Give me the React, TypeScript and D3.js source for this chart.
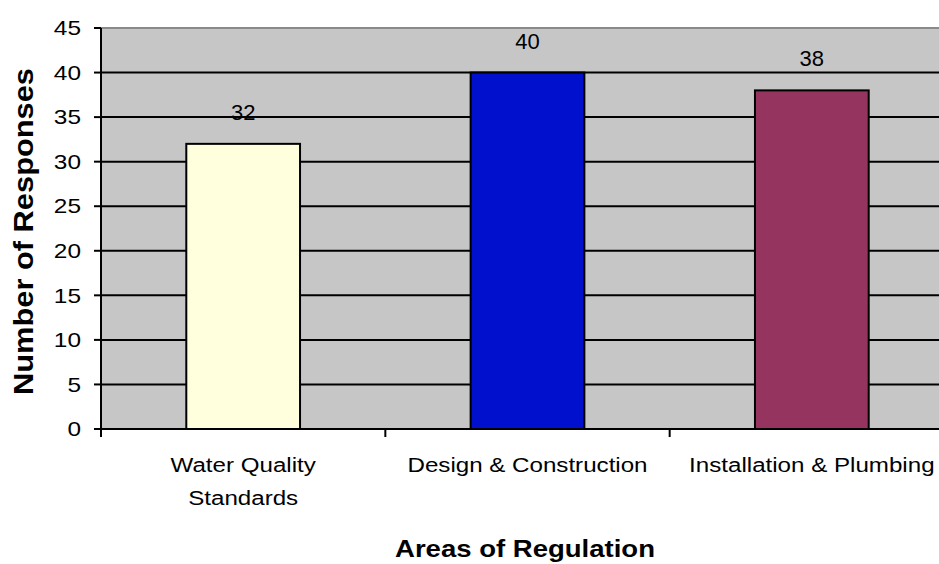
import * as d3 from 'd3';
import React from 'react';

const categories = ['Water Quality Standards', 'Design & Construction', 'Installation & Plumbing'];
const categoryLines = [['Water Quality', 'Standards'], ['Design & Construction'], ['Installation & Plumbing']];
const responses = [32, 40, 38];
const barColors = ['#ffffdd', '#0010cc', '#95355f'];
const yTicks = [0, 5, 10, 15, 20, 25, 30, 35, 40, 45];

const WIDTH = 939;
const HEIGHT = 564;
const PLOT = { left: 101, right: 954, top: 28, bottom: 429 };
const FONT = 'Arial, "Liberation Sans", sans-serif';

export default function App() {
  const xScale = d3.scaleBand().domain(categories).range([PLOT.left, PLOT.right]).padding(0);
  const yScale = d3.scaleLinear().domain([0, 45]).range([PLOT.bottom, PLOT.top]);
  const barWidth = xScale.bandwidth() * 0.4;

  return (
    <svg width={WIDTH} height={HEIGHT} style={{ position: 'absolute', left: 0, top: 0 }} fontFamily={FONT}>
      <rect x={0} y={0} width={WIDTH} height={HEIGHT} fill="#fff" />
      <rect
        x={PLOT.left}
        y={PLOT.top}
        width={PLOT.right - PLOT.left}
        height={PLOT.bottom - PLOT.top}
        fill="#c6c6c6"
      />
      <line x1={PLOT.left} x2={PLOT.right} y1={PLOT.top} y2={PLOT.top} stroke="#8a8a8a" strokeWidth={2} />

      {/* gridlines */}
      {yTicks.filter(t => t > 0 && t < 45).map(t => (
        <line key={t} x1={PLOT.left} x2={PLOT.right} y1={yScale(t)} y2={yScale(t)} stroke="#000" strokeWidth={2} />
      ))}

      {/* bars */}
      {categories.map((c, i) => {
        const cx = (xScale(c) ?? 0) + xScale.bandwidth() / 2;
        const y = yScale(responses[i]);
        return (
          <g key={c}>
            <rect
              x={cx - barWidth / 2}
              y={y}
              width={barWidth}
              height={PLOT.bottom - y}
              fill={barColors[i]}
              stroke="#000"
              strokeWidth={2}
            />
            <text x={cx} y={y - 24} textAnchor="middle" fontSize={22} fill="#000">
              {responses[i]}
            </text>
          </g>
        );
      })}

      {/* y axis */}
      <line x1={PLOT.left} x2={PLOT.left} y1={PLOT.top} y2={PLOT.bottom + 1} stroke="#000" strokeWidth={2} />
      {yTicks.map(t => (
        <g key={t}>
          <line x1={PLOT.left - 7} x2={PLOT.left} y1={yScale(t)} y2={yScale(t)} stroke="#000" strokeWidth={2} />
          <text
            transform={`translate(81, ${yScale(t)}) scale(1.22, 1)`}
            dy="0.36em"
            textAnchor="end"
            fontSize={20}
            fill="#000"
          >
            {t}
          </text>
        </g>
      ))}

      {/* x axis */}
      <line x1={PLOT.left} x2={PLOT.right} y1={PLOT.bottom} y2={PLOT.bottom} stroke="#000" strokeWidth={2} />
      {categories.map(c => (
        <line
          key={c}
          x1={xScale(c) ?? 0}
          x2={xScale(c) ?? 0}
          y1={PLOT.bottom}
          y2={PLOT.bottom + 8}
          stroke="#000"
          strokeWidth={2}
        />
      ))}
      {categories.map((c, i) => {
        const cx = (xScale(c) ?? 0) + xScale.bandwidth() / 2;
        return (
          <g key={c} transform={`translate(${cx}, 472) scale(1.15, 1)`}>
            {categoryLines[i].map((line, j) => (
              <text key={j} x={0} y={j * 33} textAnchor="middle" fontSize={21} fill="#000">
                {line}
              </text>
            ))}
          </g>
        );
      })}

      <text
        x={525}
        y={557}
        textAnchor="middle"
        fontSize={24}
        fontWeight="bold"
        fill="#000"
        textLength={260}
        lengthAdjust="spacingAndGlyphs"
      >
        Areas of Regulation
      </text>
      <text
        transform={`translate(33, 231.5) scale(1.15, 1) rotate(-90)`}
        textAnchor="middle"
        fontSize={24}
        fontWeight="bold"
        fill="#000"
        textLength={327}
        lengthAdjust="spacingAndGlyphs"
      >
        Number of Responses
      </text>
    </svg>
  );
}
